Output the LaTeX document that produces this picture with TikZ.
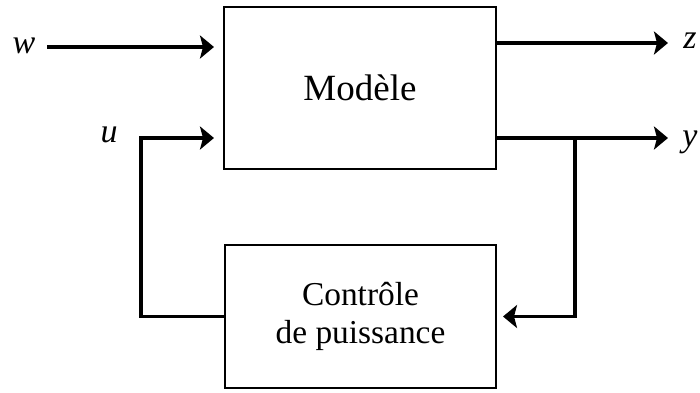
\documentclass[tikz,border=0pt]{standalone}
\usepackage{fontspec}
\setmainfont{Liberation Serif}
\usepackage{tikz}
\usetikzlibrary{arrows.meta,positioning}
\tikzset{block/.style={draw, line width=1pt, rectangle, align=center, inner sep=0pt},
         sig/.style={line width=1.8pt, -{Stealth[length=7pt,width=11.5pt,inset=1.5pt]}},
         lbl/.style={inner sep=0pt, font=\fontsize{17}{20}\selectfont\itshape}}

\begin{document}
\begin{tikzpicture}[x=0.5pt, y=-0.5pt]%[scale=0.5]
                \useasboundingbox (0,0) rectangle (700,392);

                % the two blocks
                \node [block, minimum width=136pt, minimum height=81pt,
                       font=\fontsize{18.5}{22}\selectfont] (model) at (360,88) {Modèle};
                \node [block, minimum width=135.5pt, minimum height=71.5pt,
                       font=\fontsize{16.7}{19}\selectfont] (ctrl) at (360.5,316.5)
                       {Contrôle\\de puissance};

                % signal labels
                \node [lbl] (w) at (24,46) {w};
                \node [lbl] (u) at (109,135) {u};
                \node [lbl] (z) at (690,41) {z};
                \node [lbl] (y) at (690,142) {y};

                % free ends and bends
                \coordinate (win) at (47,47);
                \coordinate (uin) at (141,138);
                \coordinate (zout) at (668,43);
                \coordinate (yout) at (668,138);
                \coordinate (ytap) at (575,138);

                % inputs
                \draw [sig, shorten >=4.5pt] (win) -- (model.west |- win);
                \draw [sig, shorten >=4.5pt] (ctrl.west) -| (uin) -- (model.west |- uin);

                % outputs and feedback
                \draw [sig] (model.east |- zout) -- (zout);
                \draw [sig] (model.east |- yout) -- (yout);
                \draw [sig, shorten >=3pt] (ytap) |- (ctrl.east);
\end{tikzpicture}
\end{document}
